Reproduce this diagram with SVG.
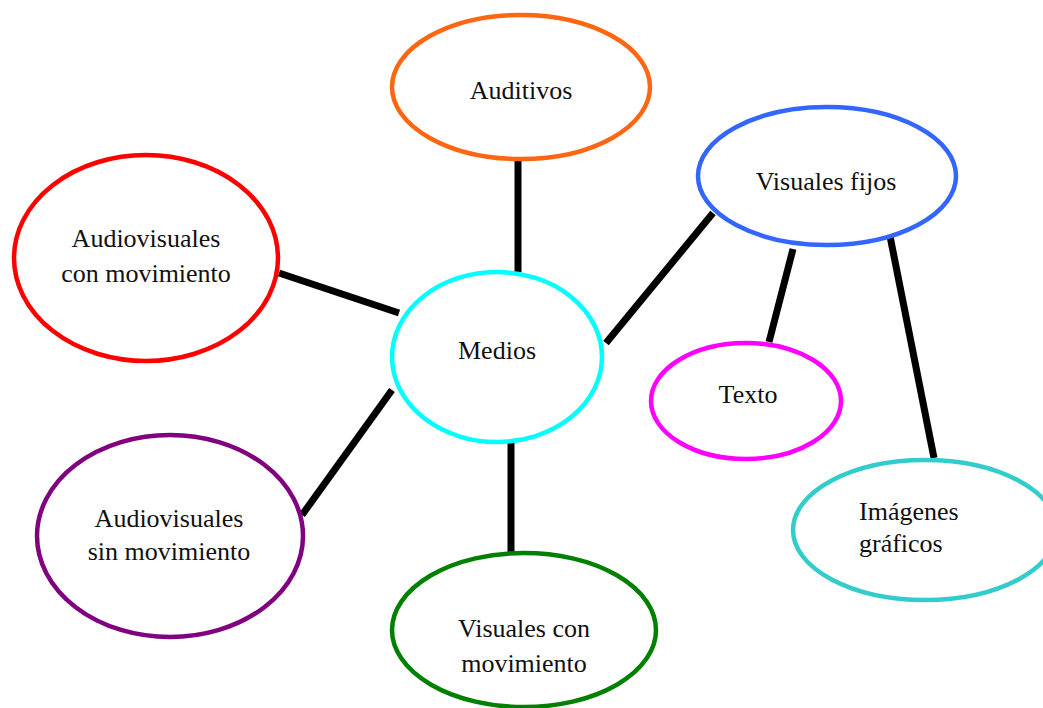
<svg xmlns="http://www.w3.org/2000/svg" width="1043" height="708" viewBox="0 0 1043 708">
<style>
.n{fill:#fff;stroke-width:4.5}
.t{font-family:"Liberation Serif","Times New Roman",serif;font-size:26px;fill:#111;text-anchor:middle}
.c line{stroke:#000;stroke-width:7}
</style>
<rect width="1043" height="708" fill="#fff"/>
<g class="c" id="connectors">
<line x1="518" y1="160" x2="518" y2="272"/>
<line x1="279" y1="273" x2="399" y2="313"/>
<line x1="606" y1="343" x2="713" y2="213"/>
<line x1="302" y1="515" x2="392" y2="390"/>
<line x1="511" y1="442" x2="511" y2="553"/>
<line x1="793" y1="249" x2="769" y2="342"/>
<line x1="888" y1="226" x2="934" y2="458"/>
</g>
<g id="auditivos"><ellipse class="n" cx="521" cy="87" rx="129" ry="72" stroke="#FF6611"/><text class="t" x="521" y="99">Auditivos</text></g>
<g id="audiovisuales-con"><ellipse class="n" cx="146" cy="258" rx="132" ry="103" stroke="#FF0000"/><text class="t" x="146" y="247">Audiovisuales</text><text class="t" x="146" y="282">con movimiento</text></g>
<g id="medios"><ellipse class="n" cx="497" cy="357" rx="105" ry="85" stroke="#00FFFF"/><text class="t" x="497" y="359">Medios</text></g>
<g id="visuales-fijos"><ellipse class="n" cx="827" cy="176" rx="129" ry="69" stroke="#3366FF"/><text class="t" x="826" y="190">Visuales fijos</text></g>
<g id="texto"><ellipse class="n" cx="746" cy="401" rx="95" ry="58" stroke="#FF00FF"/><text class="t" x="748" y="403">Texto</text></g>
<g id="imagenes"><ellipse class="n" cx="925" cy="530" rx="132" ry="70" stroke="#33CCCC"/><text class="t" x="859" y="520" style="text-anchor:start">Imágenes</text><text class="t" x="859" y="552" style="text-anchor:start">gráficos</text></g>
<g id="audiovisuales-sin"><ellipse class="n" cx="170" cy="536" rx="133" ry="101" stroke="#800080"/><text class="t" x="169" y="527">Audiovisuales</text><text class="t" x="169" y="560">sin movimiento</text></g>
<g id="visuales-con"><ellipse class="n" cx="524" cy="630" rx="132" ry="77" stroke="#008000"/><text class="t" x="524" y="637">Visuales con</text><text class="t" x="524" y="672">movimiento</text></g>
</svg>
